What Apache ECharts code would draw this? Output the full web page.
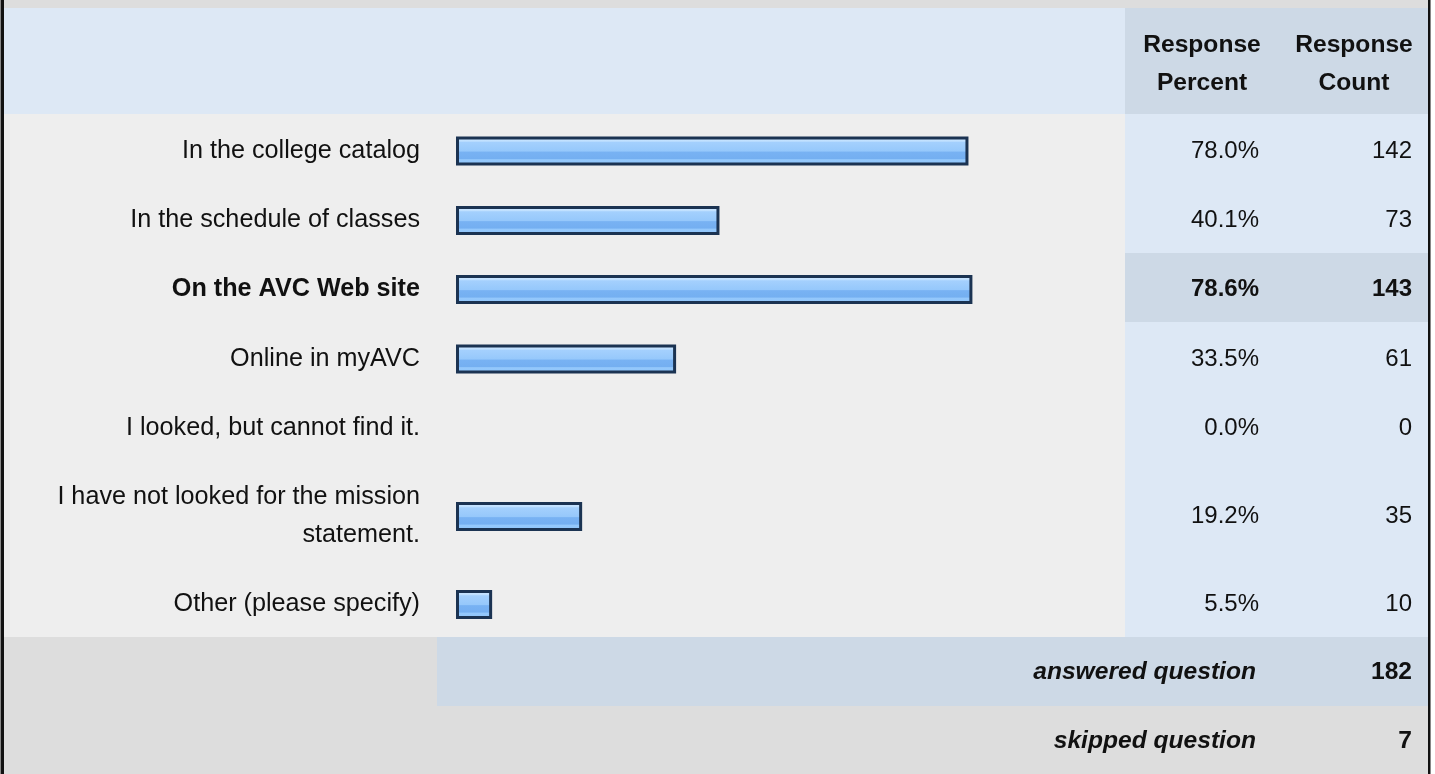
<!DOCTYPE html>
<html>
<head>
<meta charset="utf-8">
<title>Where have you seen the mission statement</title>
<script src="https://cdn.jsdelivr.net/npm/echarts@6/dist/echarts.min.js"></script>
<style>
  html, body { margin: 0; padding: 0; background: #fff; }
  #chart { width: 1435px; height: 774px; }
</style>
</head>
<body>
<div id="chart"></div>
<script>
var categories = [
  'In the college catalog',
  'In the schedule of classes',
  'On the AVC Web site',
  'Online in myAVC',
  'I looked, but cannot find it.',
  'I have not looked for the mission statement.',
  'Other (please specify)'
];
var percents = [78.0, 40.1, 78.6, 33.5, 0.0, 19.2, 5.5];
var counts = [142, 73, 143, 61, 0, 35, 10];
var answered = 182;
var skipped = 7;

// layout (px)
var rowEdges = [114, 184, 253, 322, 392, 461, 568, 637];
var barLeft = 456, barSpan = 657;
var colSplit = 1125, rightEdge = 1428;
var fontFamily = '"Liberation Sans", Arial, sans-serif';
var labelSize = 25.2;
var valueSize = 24;
var maxLabelWidth = 380;

// the most picked answer is shown in bold
var hi = counts.indexOf(Math.max.apply(null, counts));

// wrap long answers on word boundaries without trailing spaces
var ctx = document.createElement('canvas').getContext('2d');
function wrap(str, weight) {
  ctx.font = weight + ' ' + labelSize + 'px ' + fontFamily;
  var lines = [], line = '';
  str.split(' ').forEach(function (w) {
    var next = line ? line + ' ' + w : w;
    if (line && ctx.measureText(next).width > maxLabelWidth) {
      lines.push(line);
      line = w;
    } else {
      line = next;
    }
  });
  lines.push(line);
  return lines.join('\n');
}

var barFill = new echarts.graphic.LinearGradient(0, 0, 0, 1, [
  { offset: 0, color: '#d2e9ff' },
  { offset: 0.16, color: '#c0e0ff' },
  { offset: 0.2, color: '#a4d0fd' },
  { offset: 0.5, color: '#96c8fb' },
  { offset: 0.54, color: '#78b2f3' },
  { offset: 0.76, color: '#74aff1' },
  { offset: 0.8, color: '#94c8fc' },
  { offset: 1, color: '#8ec4fa' }
]);

var grid = [], xAxis = [], yAxis = [], series = [];
categories.forEach(function (name, i) {
  var mid = (rowEdges[i] + rowEdges[i + 1]) / 2 + 2;
  var weight = i === hi ? 'bold' : 'normal';
  var base = {
    gridIndex: i,
    type: 'category',
    axisLine: { show: false },
    axisTick: { show: false },
    splitLine: { show: false }
  };
  var valueLabel = {
    margin: 0, align: 'right', color: '#111',
    fontSize: valueSize, fontFamily: fontFamily, fontWeight: weight
  };
  grid.push({ left: barLeft, width: barSpan, top: mid - 16, height: 32 });
  xAxis.push({ gridIndex: i, type: 'value', min: 0, max: 100, show: false });
  yAxis.push(Object.assign({}, base, {
    position: 'left',
    data: [name],
    axisLabel: {
      margin: 36, lineHeight: 38, color: '#111',
      fontSize: labelSize, fontFamily: fontFamily, fontWeight: weight,
      formatter: function (v) { return wrap(v, weight); }
    }
  }));
  yAxis.push(Object.assign({}, base, {
    position: 'right',
    offset: 1259 - (barLeft + barSpan),
    data: [percents[i].toFixed(1) + '%'],
    axisLabel: valueLabel
  }));
  yAxis.push(Object.assign({}, base, {
    position: 'right',
    offset: 1412 - (barLeft + barSpan),
    data: [String(counts[i])],
    axisLabel: valueLabel
  }));
  series.push({
    type: 'bar',
    silent: true,
    xAxisIndex: i,
    yAxisIndex: i * 3,
    barWidth: 29,
    data: [percents[i] > 0 ? percents[i] : null],
    itemStyle: { color: barFill, borderColor: '#1b3352', borderWidth: 3 }
  });
});

function rect(x, y, w, h, fill) {
  return { type: 'rect', silent: true, z: -10, shape: { x: x, y: y, width: w, height: h }, style: { fill: fill } };
}
function text(str, x, y, align, font) {
  return {
    type: 'text', silent: true, z: 10, x: x, y: y,
    style: {
      text: str, font: font, fill: '#111', lineHeight: 38,
      align: align, verticalAlign: 'middle',
      textAlign: align, textVerticalAlign: 'middle'
    }
  };
}

var bold = 'bold 24.6px ' + fontFamily;
var boldItalic = 'italic bold 24.6px ' + fontFamily;

var elements = [
  rect(0, 0, 1435, 774, '#ffffff'),
  rect(4, 0, rightEdge - 4, 8, '#dddddd'),
  rect(4, 8, colSplit - 4, 106, '#dde8f5'),
  rect(colSplit, 8, rightEdge - colSplit, 106, '#cdd9e6'),
  rect(4, 114, colSplit - 4, 523, '#eeeeee'),
  rect(4, 637, 433, 69, '#dddddd'),
  rect(437, 637, rightEdge - 437, 69, '#cdd9e6'),
  rect(4, 706, rightEdge - 4, 68, '#dddddd'),
  rect(0, 0, 1, 774, '#888888'),
  rect(1, 0, 3, 774, '#111111'),
  rect(rightEdge, 0, 2.5, 774, '#111111')
];
categories.forEach(function (name, i) {
  elements.push(rect(colSplit, rowEdges[i], rightEdge - colSplit, rowEdges[i + 1] - rowEdges[i],
    i === hi ? '#cdd9e6' : '#dde8f5'));
});
elements.push(
  text('Response\nPercent', 1202, 64, 'center', bold),
  text('Response\nCount', 1354, 64, 'center', bold),
  text('answered question', 1256, 672, 'right', boldItalic),
  text(String(answered), 1412, 672, 'right', bold),
  text('skipped question', 1256, 741, 'right', boldItalic),
  text(String(skipped), 1412, 741, 'right', bold)
);

var chart = echarts.init(document.getElementById('chart'));
chart.setOption({
  backgroundColor: '#ffffff',
  animation: false,
  graphic: { elements: elements },
  grid: grid,
  xAxis: xAxis,
  yAxis: yAxis,
  series: series
});
</script>
</body>
</html>
